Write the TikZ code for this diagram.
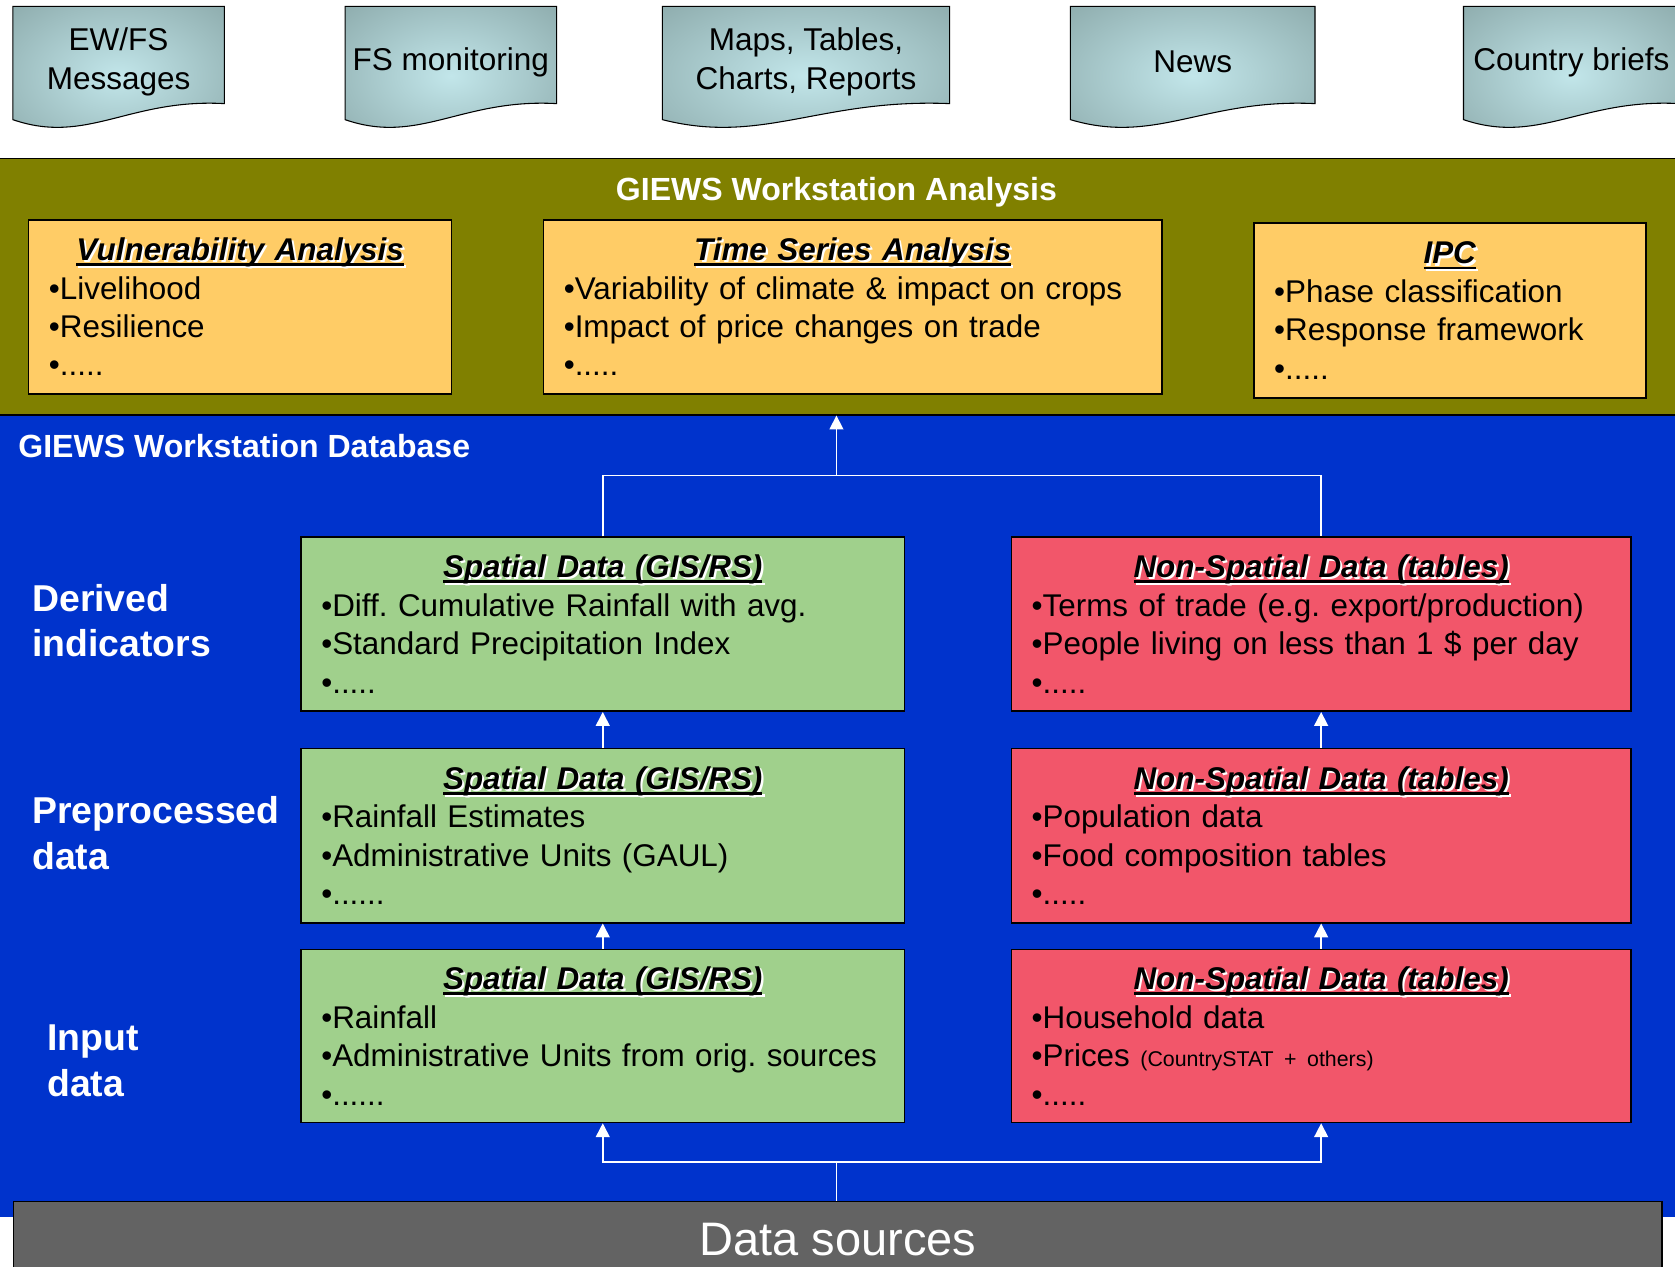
\documentclass[tikz,border=0pt]{standalone}
\usepackage{fontspec}
\setmainfont{Liberation Sans}
\usetikzlibrary{calc,arrows.meta}

\definecolor{bandolive}{RGB}{128,128,0}
\definecolor{bandblue}{RGB}{0,51,204}
\definecolor{boxorange}{RGB}{255,204,102}
\definecolor{boxgreen}{RGB}{160,208,140}
\definecolor{boxred}{RGB}{242,86,106}
\definecolor{srcgray}{RGB}{99,99,99}
\definecolor{docedge}{RGB}{122,150,150}
\definecolor{doccenter}{RGB}{194,230,234}
\pgfdeclareradialshading{docshade}{\pgfpoint{0bp}{0bp}}{color(0bp)=(doccenter); color(50bp)=(docedge); color(72bp)=(docedge)}

\newcommand{\thul}[1]{\setbox0\hbox{\textbf{\textit{#1}}}\rlap{\rule[-5pt]{\wd0}{2.5pt}}\box0}
\newcommand{\shtitle}[1]{\rlap{\kern2pt\raisebox{-2pt}{\color{white}\thul{#1}}}\thul{#1}}
\newcommand{\docshape}[4]{%
  \draw[docstyle] (#2,6) -- ({#2+#3},6) -- ({#2+#3},97) .. controls ({#2+0.55*#3},92) and ({#2+0.35*#3},136) .. (#2,112) -- cycle;
  \node[doctext] (#1) at ({#2+#3/2},58) {#4};}

\frenchspacing
\begin{document}
\begin{tikzpicture}[x=1pt,y=-1pt,
  docstyle/.style={shading=docshade,draw=black,line width=1pt},
  doctext/.style={align=center,font=\fontsize{29.5}{37}\selectfont},
  box/.style={draw=black,line width=1.5pt,anchor=north west,inner xsep=19pt,inner ysep=0pt,align=left,minimum height=163pt,font=\fontsize{29.4}{36}\selectfont},
  lbl/.style={anchor=west,align=left,inner sep=0pt,text=white,font=\bfseries\fontsize{35}{43}\selectfont},
  wline/.style={draw=white,line width=1.5pt},
  warrow/.style={wline,-{Triangle[width=13pt,length=13pt]}}]
\useasboundingbox (0,0) rectangle (1568,1186);
\fill[white] (0,0) rectangle (1568,1186);

\foreach \n/\x/\w/\t in {ewfs/12/198/{EW/FS\\Messages},fsmon/323/198/{FS monitoring},maps/620/269/{Maps, Tables,\\Charts, Reports},news/1002/229/{News},briefs/1370/202/{Country briefs}}{
  \docshape{\n}{\x}{\w}{\t}
}

\node[fill=bandblue,anchor=north west,inner sep=0pt,minimum width=1568pt,minimum height=751pt] (db) at (0,388) {};
\node[draw=black,line width=1pt,fill=bandolive,anchor=north west,inner sep=0pt,minimum width=1570pt,minimum height=240pt] (ana) at (-1,148) {};
\node[text=white,font=\bfseries\fontsize{30}{36}\selectfont] (anatitle) at (783,180) {GIEWS Workstation Analysis};
\node[text=white,font=\bfseries\fontsize{30}{36}\selectfont,anchor=west,inner sep=0pt] (dbtitle) at (17,418) {GIEWS Workstation Database};

\node[box,fill=boxorange,text width=358pt] (vul) at (26,205) {\makebox[\linewidth]{\shtitle{Vulnerability Analysis}}\\\textbullet Livelihood\\\textbullet Resilience\\\textbullet.....};
\node[box,fill=boxorange,text width=541pt] (tsa) at (508,205) {\makebox[\linewidth]{\shtitle{Time Series Analysis}}\\\textbullet Variability of climate \& impact on crops\\\textbullet Impact of price changes on trade\\\textbullet.....};
\node[box,fill=boxorange,text width=329pt,minimum height=164pt] (ipc) at (1173,208) {\makebox[\linewidth]{\shtitle{IPC}}\\\textbullet Phase classification\\\textbullet Response framework\\\textbullet.....};

\node[lbl] (lder) at (30,581) {Derived\\indicators};
\node[lbl] (lpre) at (30,780) {Preprocessed\\data};
\node[lbl] (linp) at (44,993) {Input\\data};

\node[box,fill=boxgreen,text width=527pt] (sp1) at (281,502) {\makebox[\linewidth]{\shtitle{Spatial Data (GIS/RS)}}\\\textbullet Diff. Cumulative Rainfall with avg.\\\textbullet Standard Precipitation Index\\\textbullet.....};
\node[box,fill=boxgreen,text width=527pt] (sp2) at (281,700) {\makebox[\linewidth]{\shtitle{Spatial Data (GIS/RS)}}\\\textbullet Rainfall Estimates\\\textbullet Administrative Units (GAUL)\\\textbullet......};
\node[box,fill=boxgreen,text width=527pt,minimum height=162pt] (sp3) at (281,888) {\makebox[\linewidth]{\shtitle{Spatial Data (GIS/RS)}}\\\textbullet Rainfall\\\textbullet Administrative Units from orig. sources\\\textbullet......};
\node[box,fill=boxred,text width=542pt] (ns1) at (946,502) {\makebox[\linewidth]{\shtitle{Non-Spatial Data (tables)}}\\\textbullet Terms of trade (e.g. export/production)\\\textbullet People living on less than 1 \$ per day\\\textbullet.....};
\node[box,fill=boxred,text width=542pt] (ns2) at (946,700) {\makebox[\linewidth]{\shtitle{Non-Spatial Data (tables)}}\\\textbullet Population data\\\textbullet Food composition tables\\\textbullet.....};
\node[box,fill=boxred,text width=542pt,minimum height=162pt] (ns3) at (946,888) {\makebox[\linewidth]{\shtitle{Non-Spatial Data (tables)}}\\\textbullet Household data\\\textbullet Prices {\fontsize{20}{24}\selectfont(CountrySTAT + others)}\\\textbullet.....};

\node[draw=black,line width=1.5pt,fill=srcgray,anchor=north west,inner sep=0pt,minimum width=1543pt,minimum height=72pt,text=white,font=\fontsize{44}{50}\selectfont] (src) at (12,1124) {Data sources};

\coordinate (top) at (783,445);
\coordinate (bot) at (783,1088);
\draw[wline] (sp1.north) -- (sp1.north |- top) -- (ns1.north |- top) -- (ns1.north);
\draw[warrow] (top) -- (top |- ana.south);
\draw[warrow] (sp2.north) -- (sp1.south);
\draw[warrow] (sp3.north) -- (sp2.south);
\draw[warrow] (ns2.north) -- (ns1.south);
\draw[warrow] (ns3.north) -- (ns2.south);
\draw[wline] (bot |- src.north) -- (bot);
\draw[warrow] (bot) -| (sp3.south);
\draw[warrow] (bot) -| (ns3.south);
\end{tikzpicture}
\end{document}
